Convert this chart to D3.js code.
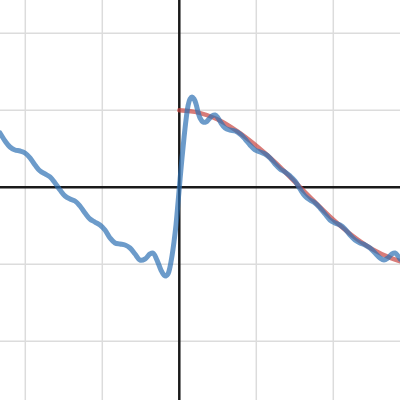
<!DOCTYPE html>
<html>
<head>
<meta charset="utf-8">
<script src="https://cdn.jsdelivr.net/npm/d3@7"></script>
<style>
  html, body { margin: 0; padding: 0; background: #fff; }
  svg { display: block; }
</style>
</head>
<body>
<svg width="400" height="400"></svg>
<script>
// grid positions (graph units)
var gridX = [-2, -1, 1, 2];
var gridY = [-2, -1, 1, 2];

// red curve: target function on the right half
var redX = [0, 0.25, 0.5, 0.75, 1.0, 1.25, 1.5, 1.75, 2.0, 2.25, 2.5, 2.75, 2.87];
var redY = [1.0, 0.97, 0.88, 0.73, 0.54, 0.32, 0.07, -0.18, -0.42, -0.63, -0.80, -0.92, -0.96];

// blue curve: partial-sum approximation
var blueX = [-2.329, -2.263, -2.199, -2.134, -2.069, -2.004, -1.939, -1.874, -1.809, -1.744,
             -1.679, -1.614, -1.549, -1.484, -1.419, -1.355, -1.290, -1.225, -1.160, -1.095,
             -1.030, -0.965, -0.900, -0.835, -0.770, -0.705, -0.640, -0.575, -0.510, -0.445,
             -0.381, -0.342, -0.290, -0.238, -0.199, -0.173, -0.147, -0.121, -0.095, -0.069,
             -0.043, -0.017, 0.009, 0.035, 0.061, 0.087, 0.113, 0.139, 0.165, 0.191,
             0.217, 0.243, 0.269, 0.308, 0.347, 0.386, 0.425, 0.464, 0.503, 0.542,
             0.594, 0.658, 0.723, 0.788, 0.853, 0.918, 0.983, 1.048, 1.113, 1.178,
             1.243, 1.308, 1.373, 1.438, 1.503, 1.568, 1.632, 1.697, 1.762, 1.827,
             1.892, 1.957, 2.022, 2.087, 2.152, 2.217, 2.282, 2.347, 2.412, 2.477,
             2.542, 2.606, 2.658, 2.710, 2.762, 2.801, 2.840, 2.866];
var blueY = [0.705, 0.601, 0.523, 0.484, 0.471, 0.445, 0.381, 0.290, 0.212, 0.173,
             0.134, 0.056, -0.035, -0.113, -0.152, -0.178, -0.243, -0.334, -0.412, -0.451,
             -0.490, -0.555, -0.658, -0.723, -0.736, -0.749, -0.788, -0.866, -0.945, -0.932,
             -0.866, -0.853, -0.945, -1.075, -1.140, -1.152, -1.126, -1.036, -0.893, -0.710,
             -0.490, -0.204, 0.095, 0.381, 0.640, 0.874, 1.056, 1.147, 1.173, 1.147,
             1.082, 0.978, 0.900, 0.848, 0.848, 0.887, 0.926, 0.939, 0.900, 0.835,
             0.770, 0.744, 0.731, 0.692, 0.627, 0.549, 0.484, 0.458, 0.432, 0.381,
             0.303, 0.238, 0.199, 0.147, 0.082, -0.022, -0.113, -0.165, -0.204, -0.269,
             -0.347, -0.425, -0.464, -0.490, -0.542, -0.620, -0.684, -0.723, -0.749, -0.788,
             -0.853, -0.917, -0.943, -0.917, -0.866, -0.853, -0.892, -0.932];

var svg = d3.select("svg");
var W = +svg.attr("width"), H = +svg.attr("height");

var x = d3.scaleLinear().domain([-2.3286, 2.8662]).range([0, W]);
var y = d3.scaleLinear().domain([-2.762, 2.432]).range([H, 0]);

// grid
svg.append("g")
    .selectAll("line")
    .data(gridX)
    .enter()
    .append("line")
    .attr("x1", d => x(d)).attr("x2", d => x(d))
    .attr("y1", 0).attr("y2", H)
    .attr("stroke", "#dcdcdc")
    .attr("stroke-width", 1.5);

svg.append("g")
    .selectAll("line")
    .data(gridY)
    .enter()
    .append("line")
    .attr("y1", d => y(d)).attr("y2", d => y(d))
    .attr("x1", 0).attr("x2", W)
    .attr("stroke", "#dcdcdc")
    .attr("stroke-width", 1.5);

// axes
svg.append("line")
    .attr("x1", x(0)).attr("x2", x(0)).attr("y1", 0).attr("y2", H)
    .attr("stroke", "#1a1a1a").attr("stroke-width", 2.5);
svg.append("line")
    .attr("y1", y(0)).attr("y2", y(0)).attr("x1", 0).attr("x2", W)
    .attr("stroke", "#1a1a1a").attr("stroke-width", 2.5);

// red curve
var red = redX.map((d, i) => [d, redY[i]]);
svg.append("path")
    .attr("fill", "none")
    .attr("stroke", "#c74440")
    .attr("stroke-opacity", 0.7)
    .attr("stroke-width", 4.5)
    .attr("stroke-linecap", "round")
    .attr("stroke-linejoin", "round")
    .attr("d", d3.line().curve(d3.curveCatmullRom).x(d => x(d[0])).y(d => y(d[1]))(red));

// blue curve
var blue = blueX.map((d, i) => [d, blueY[i]]);
svg.append("path")
    .attr("fill", "none")
    .attr("stroke", "#2d70b3")
    .attr("stroke-opacity", 0.7)
    .attr("stroke-width", 5)
    .attr("stroke-linecap", "round")
    .attr("stroke-linejoin", "round")
    .attr("d", d3.line().curve(d3.curveCatmullRom).x(d => x(d[0])).y(d => y(d[1]))(blue));
</script>
</body>
</html>
